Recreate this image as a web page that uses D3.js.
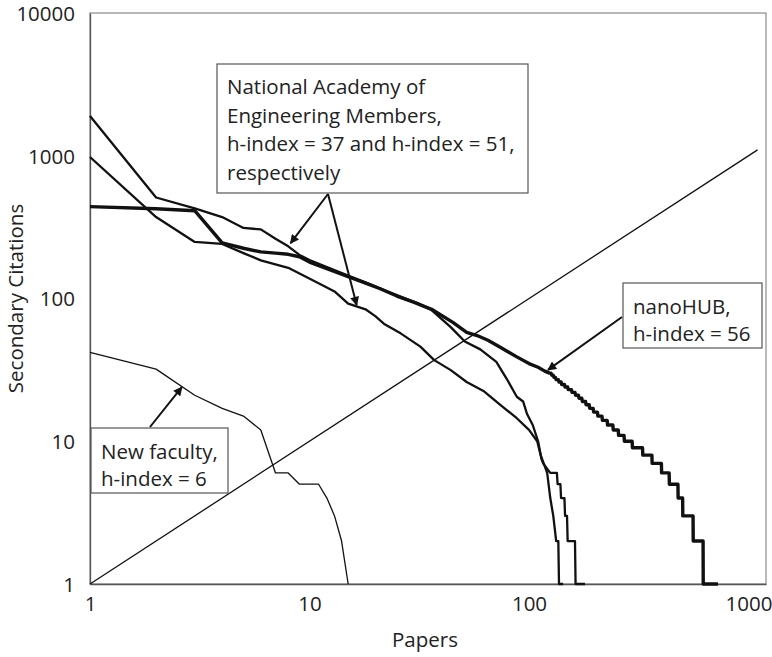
<!DOCTYPE html>
<html><head><meta charset="utf-8">
<script src="https://cdn.jsdelivr.net/npm/d3@7"></script>
<style>
body{margin:0;background:#fff;}
text{font-family:"Open Sans",Lato,sans-serif;fill:#222;}
</style></head>
<body><svg id="c" width="772" height="657"></svg>
<script>
// ---- data (rank, secondary citations) ----
const xTicks = [1, 10, 100, 1000];
const yTicks = [1, 10, 100, 1000, 10000];

const nanoHead = [[1,440],[2,425],[3,412],[4,245],[5,225],[6,212],[7,208],[8,204],[9,196],[10,180],[12,162],[15,142],[18,128],[21,117],[25,104],[30,94],[36,84],[45,68],[52,58],[58,55],[65,51],[75,45],[88,39],[100,35],[110,33],[118,31]];
const nanoStepStart = [124,127,130,133,137,141,146,151,157,163,169,175,182,189,197,206,216,228,242,256,272,296,330,364,402,436,478,502,560,622];
const nanoStepLevel = [30,29,28,27,26,25,24,23,22,21,20,19,18,17,16,15,14,13,12,11,10,9,8,7,6,5,4,3,2,1];
const nanoLastRank = 726;

const naeA = [[1,1900],[2,510],[3,428],[4,372],[5,312],[6,305],[7,262],[8,232],[9,202],[10,186],[12,166],[15,145],[18,130],[22,114],[26,103],[31,93],[36,83],[44,63],[51,50],[60,44],[71,36],[79,27.5],[88,20.5],[94,19],[98,15.5],[104,13],[110,10],[114,7.5],[116,7],[125,6],[134,6],[135,5],[139,5],[140,4],[145,4],[146,3],[149,3],[150,2],[162,2],[163,1],[180,1]];
const naeB = [[1,980],[2,372],[3,249],[4,241],[5,208],[6,185],[8,164],[11,128],[13,112],[15,92],[18,84],[20,75],[22,66],[26,57],[32,46],[37,37],[44,31.5],[52,26],[62,22.5],[74,18],[88,14.5],[100,12],[109,10],[113,8],[121,6],[125,4],[129,3],[133,2],[136,2],[137,1],[143,1]];
const newFaculty = [[1,42],[2,32],[3,21],[4,17],[5,15],[6,12],[7,6],[8,6],[9,5],[10,5],[11,5],[12,4],[13,3],[14,2],[15,1]];
const hLine = [[1,1],[1100,1100]];

// annotation texts and arrow targets (data coords)
const naeText = ["National Academy of","Engineering Members,","h-index = 37 and h-index = 51,","respectively"];
const nanoText = ["nanoHUB,","h-index = 56"];
const facText = ["New faculty,","h-index = 6"];
const naeTips = [[8.2,244],[16.4,90]];
const nanoTip = [122,31.6];
const facTip = [2.62,23.9];

// ---- build stepped tail for nanoHUB ----
const nanoHub = nanoHead.slice();
nanoStepStart.forEach((s,i)=>{
  const end = i < nanoStepStart.length-1 ? nanoStepStart[i+1]-1 : nanoLastRank;
  nanoHub.push([s, nanoStepLevel[i]]);
  nanoHub.push([end, nanoStepLevel[i]]);
});

const FS = 20.5;
const svg = d3.select("#c");
const L=90, R=766, T=13, B=584;
const x = d3.scaleLog().domain([1, Math.pow(10,(R-L)/219.5)]).range([L,R]);
const y = d3.scaleLog().domain([1,10000]).range([B,T]);

const defs = svg.append("defs");
defs.append("marker").attr("id","ah").attr("viewBox","0 0 10 10")
  .attr("refX",9).attr("refY",5).attr("markerWidth",10).attr("markerHeight",9)
  .attr("markerUnits","userSpaceOnUse").attr("orient","auto")
  .append("path").attr("d","M0,0 L10,5 L0,10 z").attr("fill","#111");

// plot frame
svg.append("rect").attr("x",L).attr("y",T).attr("width",R-L).attr("height",B-T)
  .attr("fill","none").attr("stroke","#8a8a8a").attr("stroke-width",1.2);

// axes
const ax = svg.append("g").attr("transform",`translate(0,${B})`)
  .call(d3.axisBottom(x).tickValues(xTicks).tickFormat(d3.format("d")).tickSize(0).tickPadding(12));
const ay = svg.append("g").attr("transform",`translate(${L},0)`)
  .call(d3.axisLeft(y).tickValues(yTicks).tickFormat(d3.format("d")).tickSize(0).tickPadding(15));
[ax,ay].forEach(g=>{
  g.select(".domain").attr("stroke","#555").attr("stroke-width",1.3);
  g.selectAll("text").attr("font-size",FS).attr("font-family","Open Sans").attr("fill","#222");
});
ay.selectAll("text").attr("dy","0.36em");

svg.append("text").attr("x",(L+R)/2-3).attr("y",647).attr("text-anchor","middle")
  .attr("font-size",FS).text("Papers");
svg.append("text").attr("transform",`translate(23,${(T+B)/2}) rotate(-90)`)
  .attr("text-anchor","middle").attr("font-size",FS).text("Secondary Citations");

// lines
const line = d3.line().x(d=>x(d[0])).y(d=>y(d[1]));
const series = [
  {d:hLine, w:1.3},
  {d:newFaculty, w:1.3},
  {d:naeB, w:2.3},
  {d:naeA, w:2.3},
  {d:nanoHub, w:3.4}
];
svg.append("g").selectAll("path").data(series).join("path")
  .attr("d",s=>line(s.d)).attr("fill","none").attr("stroke","#111")
  .attr("stroke-width",s=>s.w).attr("stroke-linejoin","round");

// annotation boxes
function box(x0,y0,x1,y1,lines,tx,ty,lh){
  svg.append("rect").attr("x",x0).attr("y",y0).attr("width",x1-x0).attr("height",y1-y0)
    .attr("fill","#fff").attr("stroke","#555").attr("stroke-width",1.2);
  lines.forEach((t,i)=>svg.append("text").attr("x",tx).attr("y",ty+i*lh)
    .attr("font-size",FS).text(t));
}
function arrow(x0,y0,tip){
  svg.append("line").attr("x1",x0).attr("y1",y0).attr("x2",x(tip[0])).attr("y2",y(tip[1]))
    .attr("stroke","#111").attr("stroke-width",2).attr("marker-end","url(#ah)");
}
box(217,64,528,193,naeText,227,94,28.6);
naeTips.forEach(t=>arrow(328,194,t));
box(623,283,762,348,nanoText,633,314,27);
arrow(622,317,nanoTip);
box(91,428,228,493,facText,101,459,27);
arrow(150,427,facTip);
</script></body></html>
